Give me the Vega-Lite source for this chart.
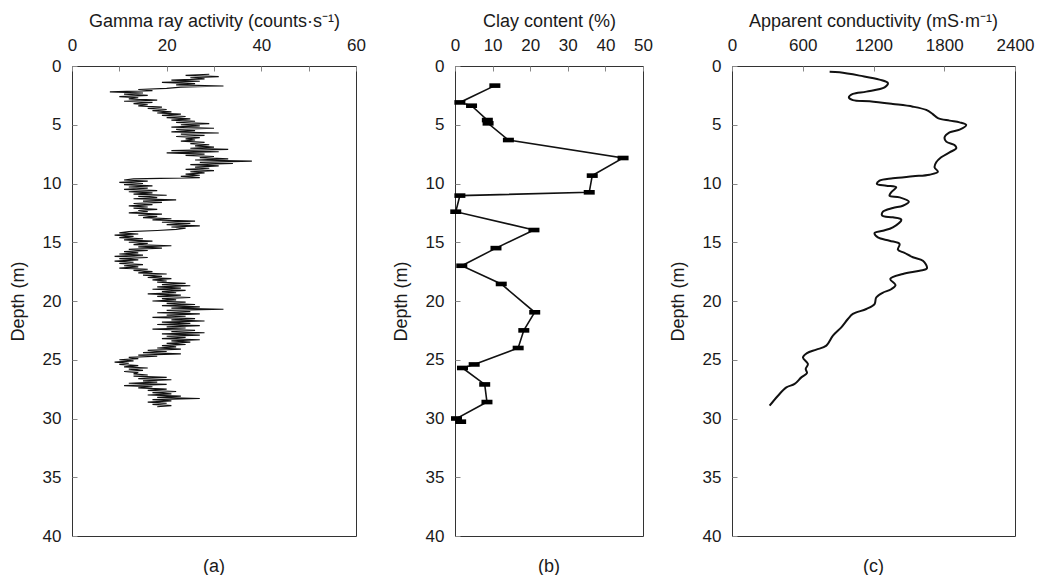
{
  "$schema": "https://vega.github.io/schema/vega-lite/v6.json",
  "autosize": {"type": "pad"},
  "padding": {"left": 8, "top": 11, "right": 5, "bottom": 5},
  "bounds": "flush",
  "spacing": 99,
  "config": {
    "font": "Liberation Sans",
    "view": {"stroke": "#333", "strokeWidth": 1},
    "axis": {
      "domain": false,
      "grid": false,
      "tickSize": -5,
      "tickColor": "#888",
      "labelFontSize": 17,
      "labelColor": "#1a1a1a",
      "labelFlush": false,
      "labelOverlap": false,
      "titleFontSize": 18,
      "titleFontWeight": "normal",
      "titleColor": "#1a1a1a"
    },
    "axisX": {"labelPadding": 17},
    "axisY": {"labelPadding": 16},
    "title": {"fontSize": 18, "fontWeight": "normal", "color": "#1a1a1a", "orient": "bottom", "baseline": "middle", "offset": 14}
  },
  "datasets": {
    "gamma": [
      {"depth":0.7,"gamma":29},{"depth":0.8,"gamma":24},{"depth":0.9,"gamma":31},{"depth":1.0,"gamma":25},{"depth":1.1,"gamma":28},
      {"depth":1.2,"gamma":21},{"depth":1.3,"gamma":27},{"depth":1.4,"gamma":19},{"depth":1.5,"gamma":26},{"depth":1.6,"gamma":22},
      {"depth":1.7,"gamma":32},{"depth":1.8,"gamma":23},{"depth":1.9,"gamma":20},{"depth":2.0,"gamma":14},{"depth":2.1,"gamma":17},
      {"depth":2.2,"gamma":8},{"depth":2.3,"gamma":15},{"depth":2.4,"gamma":11},{"depth":2.5,"gamma":16},{"depth":2.6,"gamma":10},
      {"depth":2.7,"gamma":14},{"depth":2.8,"gamma":12},{"depth":2.9,"gamma":18},{"depth":3.0,"gamma":11},{"depth":3.1,"gamma":17},
      {"depth":3.2,"gamma":13},{"depth":3.3,"gamma":16},{"depth":3.4,"gamma":14},{"depth":3.5,"gamma":19},{"depth":3.6,"gamma":16},
      {"depth":3.7,"gamma":20},{"depth":3.8,"gamma":17},{"depth":3.9,"gamma":21},{"depth":4.0,"gamma":18},{"depth":4.1,"gamma":23},
      {"depth":4.2,"gamma":19},{"depth":4.3,"gamma":24},{"depth":4.4,"gamma":20},{"depth":4.5,"gamma":25},{"depth":4.6,"gamma":21},
      {"depth":4.7,"gamma":26},{"depth":4.8,"gamma":22},{"depth":4.9,"gamma":29},{"depth":5.0,"gamma":23},{"depth":5.1,"gamma":27},
      {"depth":5.2,"gamma":21},{"depth":5.3,"gamma":30},{"depth":5.4,"gamma":22},{"depth":5.5,"gamma":26},{"depth":5.6,"gamma":21},
      {"depth":5.7,"gamma":31},{"depth":5.8,"gamma":23},{"depth":5.9,"gamma":28},{"depth":6.0,"gamma":22},{"depth":6.1,"gamma":27},
      {"depth":6.2,"gamma":24},{"depth":6.3,"gamma":26},{"depth":6.4,"gamma":23},{"depth":6.5,"gamma":28},{"depth":6.6,"gamma":25},
      {"depth":6.7,"gamma":29},{"depth":6.8,"gamma":26},{"depth":6.9,"gamma":30},{"depth":7.0,"gamma":25},{"depth":7.1,"gamma":33},
      {"depth":7.2,"gamma":21},{"depth":7.3,"gamma":31},{"depth":7.4,"gamma":20},{"depth":7.5,"gamma":28},{"depth":7.6,"gamma":24},
      {"depth":7.7,"gamma":30},{"depth":7.8,"gamma":27},{"depth":7.9,"gamma":33},{"depth":8.0,"gamma":26},{"depth":8.1,"gamma":38},
      {"depth":8.2,"gamma":27},{"depth":8.3,"gamma":34},{"depth":8.4,"gamma":25},{"depth":8.5,"gamma":31},{"depth":8.6,"gamma":26},
      {"depth":8.7,"gamma":29},{"depth":8.8,"gamma":24},{"depth":8.9,"gamma":30},{"depth":9.0,"gamma":25},{"depth":9.1,"gamma":28},
      {"depth":9.2,"gamma":24},{"depth":9.3,"gamma":27},{"depth":9.4,"gamma":23},{"depth":9.5,"gamma":27},{"depth":9.6,"gamma":13},
      {"depth":9.7,"gamma":11},{"depth":9.8,"gamma":16},{"depth":9.9,"gamma":10},{"depth":10.0,"gamma":15},{"depth":10.1,"gamma":11},
      {"depth":10.2,"gamma":17},{"depth":10.3,"gamma":12},{"depth":10.4,"gamma":16},{"depth":10.5,"gamma":11},{"depth":10.6,"gamma":18},
      {"depth":10.7,"gamma":12},{"depth":10.8,"gamma":17},{"depth":10.9,"gamma":13},{"depth":11.0,"gamma":20},{"depth":11.1,"gamma":14},
      {"depth":11.2,"gamma":18},{"depth":11.3,"gamma":13},{"depth":11.4,"gamma":22},{"depth":11.5,"gamma":15},{"depth":11.6,"gamma":19},
      {"depth":11.7,"gamma":13},{"depth":11.8,"gamma":17},{"depth":11.9,"gamma":12},{"depth":12.0,"gamma":16},{"depth":12.1,"gamma":13},
      {"depth":12.2,"gamma":18},{"depth":12.3,"gamma":14},{"depth":12.4,"gamma":16},{"depth":12.5,"gamma":12},{"depth":12.6,"gamma":19},
      {"depth":12.7,"gamma":14},{"depth":12.8,"gamma":18},{"depth":12.9,"gamma":15},{"depth":13.0,"gamma":21},{"depth":13.1,"gamma":17},
      {"depth":13.2,"gamma":26},{"depth":13.3,"gamma":19},{"depth":13.4,"gamma":25},{"depth":13.5,"gamma":20},{"depth":13.6,"gamma":27},
      {"depth":13.7,"gamma":21},{"depth":13.8,"gamma":24},{"depth":13.9,"gamma":22},{"depth":14.0,"gamma":18},{"depth":14.1,"gamma":12},
      {"depth":14.2,"gamma":10},{"depth":14.3,"gamma":14},{"depth":14.4,"gamma":9},{"depth":14.5,"gamma":13},{"depth":14.6,"gamma":10},
      {"depth":14.7,"gamma":15},{"depth":14.8,"gamma":11},{"depth":14.9,"gamma":17},{"depth":15.0,"gamma":12},{"depth":15.1,"gamma":16},
      {"depth":15.2,"gamma":13},{"depth":15.3,"gamma":21},{"depth":15.4,"gamma":14},{"depth":15.5,"gamma":19},{"depth":15.6,"gamma":12},
      {"depth":15.7,"gamma":16},{"depth":15.8,"gamma":11},{"depth":15.9,"gamma":14},{"depth":16.0,"gamma":10},{"depth":16.1,"gamma":15},
      {"depth":16.2,"gamma":9},{"depth":16.3,"gamma":16},{"depth":16.4,"gamma":10},{"depth":16.5,"gamma":14},{"depth":16.6,"gamma":9},
      {"depth":16.7,"gamma":13},{"depth":16.8,"gamma":10},{"depth":16.9,"gamma":15},{"depth":17.0,"gamma":11},{"depth":17.1,"gamma":14},
      {"depth":17.2,"gamma":10},{"depth":17.3,"gamma":16},{"depth":17.4,"gamma":13},{"depth":17.5,"gamma":17},{"depth":17.6,"gamma":14},
      {"depth":17.7,"gamma":20},{"depth":17.8,"gamma":15},{"depth":17.9,"gamma":19},{"depth":18.0,"gamma":16},{"depth":18.1,"gamma":21},
      {"depth":18.2,"gamma":17},{"depth":18.3,"gamma":20},{"depth":18.4,"gamma":18},{"depth":18.5,"gamma":24},{"depth":18.6,"gamma":19},
      {"depth":18.7,"gamma":25},{"depth":18.8,"gamma":18},{"depth":18.9,"gamma":23},{"depth":19.0,"gamma":17},{"depth":19.1,"gamma":24},
      {"depth":19.2,"gamma":19},{"depth":19.3,"gamma":22},{"depth":19.4,"gamma":16},{"depth":19.5,"gamma":23},{"depth":19.6,"gamma":18},
      {"depth":19.7,"gamma":25},{"depth":19.8,"gamma":19},{"depth":19.9,"gamma":22},{"depth":20.0,"gamma":17},{"depth":20.1,"gamma":24},
      {"depth":20.2,"gamma":20},{"depth":20.3,"gamma":26},{"depth":20.4,"gamma":19},{"depth":20.5,"gamma":27},{"depth":20.6,"gamma":21},
      {"depth":20.7,"gamma":32},{"depth":20.8,"gamma":20},{"depth":20.9,"gamma":25},{"depth":21.0,"gamma":18},{"depth":21.1,"gamma":27},
      {"depth":21.2,"gamma":20},{"depth":21.3,"gamma":24},{"depth":21.4,"gamma":17},{"depth":21.5,"gamma":26},{"depth":21.6,"gamma":21},
      {"depth":21.7,"gamma":28},{"depth":21.8,"gamma":19},{"depth":21.9,"gamma":25},{"depth":22.0,"gamma":18},{"depth":22.1,"gamma":27},
      {"depth":22.2,"gamma":20},{"depth":22.3,"gamma":24},{"depth":22.4,"gamma":17},{"depth":22.5,"gamma":26},{"depth":22.6,"gamma":21},
      {"depth":22.7,"gamma":28},{"depth":22.8,"gamma":19},{"depth":22.9,"gamma":27},{"depth":23.0,"gamma":20},{"depth":23.1,"gamma":24},
      {"depth":23.2,"gamma":19},{"depth":23.3,"gamma":27},{"depth":23.4,"gamma":21},{"depth":23.5,"gamma":25},{"depth":23.6,"gamma":20},
      {"depth":23.7,"gamma":24},{"depth":23.8,"gamma":19},{"depth":23.9,"gamma":22},{"depth":24.0,"gamma":18},{"depth":24.1,"gamma":23},
      {"depth":24.2,"gamma":16},{"depth":24.3,"gamma":20},{"depth":24.4,"gamma":15},{"depth":24.5,"gamma":23},{"depth":24.6,"gamma":14},
      {"depth":24.7,"gamma":18},{"depth":24.8,"gamma":12},{"depth":24.9,"gamma":14},{"depth":25.0,"gamma":10},{"depth":25.1,"gamma":13},
      {"depth":25.2,"gamma":9},{"depth":25.3,"gamma":12},{"depth":25.4,"gamma":10},{"depth":25.5,"gamma":14},{"depth":25.6,"gamma":11},
      {"depth":25.7,"gamma":16},{"depth":25.8,"gamma":12},{"depth":25.9,"gamma":15},{"depth":26.0,"gamma":11},{"depth":26.1,"gamma":14},
      {"depth":26.2,"gamma":13},{"depth":26.3,"gamma":16},{"depth":26.4,"gamma":13},{"depth":26.5,"gamma":20},{"depth":26.6,"gamma":14},
      {"depth":26.7,"gamma":21},{"depth":26.8,"gamma":15},{"depth":26.9,"gamma":18},{"depth":27.0,"gamma":12},{"depth":27.1,"gamma":20},
      {"depth":27.2,"gamma":11},{"depth":27.3,"gamma":17},{"depth":27.4,"gamma":14},{"depth":27.5,"gamma":20},{"depth":27.6,"gamma":16},
      {"depth":27.7,"gamma":22},{"depth":27.8,"gamma":17},{"depth":27.9,"gamma":21},{"depth":28.0,"gamma":16},{"depth":28.1,"gamma":23},
      {"depth":28.2,"gamma":18},{"depth":28.3,"gamma":27},{"depth":28.4,"gamma":17},{"depth":28.5,"gamma":21},{"depth":28.6,"gamma":16},
      {"depth":28.7,"gamma":20},{"depth":28.8,"gamma":17},{"depth":28.9,"gamma":21},{"depth":29.0,"gamma":18}
    ],
    "clay": [
      {"depth":1.67,"clay":10.6},{"depth":3.1,"clay":1.3},{"depth":3.38,"clay":4.4},{"depth":4.6,"clay":8.6},
      {"depth":4.88,"clay":8.8},{"depth":6.3,"clay":14.2},{"depth":7.83,"clay":44.7},{"depth":9.33,"clay":36.5},
      {"depth":10.75,"clay":35.7},{"depth":11.03,"clay":1.3},{"depth":12.4,"clay":0.2},{"depth":13.96,"clay":21.0},
      {"depth":15.5,"clay":10.9},{"depth":17.0,"clay":1.8},{"depth":18.55,"clay":12.3},{"depth":20.96,"clay":21.2},
      {"depth":22.5,"clay":18.3},{"depth":24.0,"clay":16.8},{"depth":25.4,"clay":5.1},{"depth":25.7,"clay":2.0},
      {"depth":27.1,"clay":7.9},{"depth":28.6,"clay":8.5},{"depth":30.0,"clay":0.4},{"depth":30.27,"clay":1.5}
    ],
    "cond": [
      {"depth":0.48,"ec":828},{"depth":0.54,"ec":912},{"depth":0.82,"ec":1082},{"depth":1.16,"ec":1251},{"depth":1.45,"ec":1322},
      {"depth":1.82,"ec":1294},{"depth":2.18,"ec":1139},{"depth":2.38,"ec":1025},{"depth":2.67,"ec":991},{"depth":2.9,"ec":1025},
      {"depth":3.0,"ec":1167},{"depth":3.23,"ec":1364},{"depth":3.46,"ec":1534},{"depth":3.74,"ec":1647},{"depth":4.09,"ec":1703},
      {"depth":4.43,"ec":1746},{"depth":4.65,"ec":1845},{"depth":4.8,"ec":1930},{"depth":5.02,"ec":1986},{"depth":5.42,"ec":1930},
      {"depth":5.65,"ec":1845},{"depth":6.07,"ec":1803},{"depth":6.44,"ec":1817},{"depth":6.72,"ec":1887},{"depth":7.0,"ec":1902},
      {"depth":7.35,"ec":1845},{"depth":7.77,"ec":1774},{"depth":8.2,"ec":1732},{"depth":8.62,"ec":1718},{"depth":9.0,"ec":1746},
      {"depth":9.25,"ec":1675},{"depth":9.39,"ec":1534},{"depth":9.56,"ec":1364},{"depth":9.76,"ec":1251},{"depth":10.04,"ec":1229},
      {"depth":10.19,"ec":1308},{"depth":10.32,"ec":1393},{"depth":10.75,"ec":1350},{"depth":11.04,"ec":1336},{"depth":11.18,"ec":1421},
      {"depth":11.55,"ec":1500},{"depth":11.89,"ec":1449},{"depth":12.09,"ec":1364},{"depth":12.4,"ec":1280},{"depth":12.74,"ec":1274},
      {"depth":12.88,"ec":1364},{"depth":13.08,"ec":1436},{"depth":13.73,"ec":1364},{"depth":14.02,"ec":1280},{"depth":14.21,"ec":1209},
      {"depth":14.58,"ec":1237},{"depth":14.87,"ec":1336},{"depth":15.15,"ec":1421},{"depth":15.63,"ec":1407},{"depth":15.91,"ec":1463},
      {"depth":16.28,"ec":1534},{"depth":16.57,"ec":1619},{"depth":17.22,"ec":1653},{"depth":17.42,"ec":1591},{"depth":17.7,"ec":1449},
      {"depth":18.13,"ec":1342},{"depth":18.64,"ec":1387},{"depth":19.0,"ec":1350},{"depth":19.3,"ec":1277},{"depth":19.7,"ec":1223},
      {"depth":20.26,"ec":1209},{"depth":20.68,"ec":1139},{"depth":21.1,"ec":1025},{"depth":21.53,"ec":983},{"depth":22.24,"ec":927},
      {"depth":22.95,"ec":856},{"depth":23.8,"ec":800},{"depth":24.14,"ec":715},{"depth":24.43,"ec":636},{"depth":24.8,"ec":602},
      {"depth":25.36,"ec":644},{"depth":25.79,"ec":625},{"depth":26.13,"ec":636},{"depth":26.5,"ec":588},{"depth":27.06,"ec":531},
      {"depth":27.35,"ec":461},{"depth":28.06,"ec":390},{"depth":28.91,"ec":319}
    ]
  },
  "hconcat": [
    {
      "width": 284,
      "height": 470,
      "title": {"text": "(a)"},
      "data": {"name": "gamma"},
      "mark": {"type": "line", "color": "#111", "strokeWidth": 1.2},
      "encoding": {
        "x": {
          "field": "gamma", "type": "quantitative",
          "scale": {"domain": [0, 60], "nice": false},
          "axis": {"orient": "top", "title": "Gamma ray activity (counts·s⁻¹)", "titleX": 142, "titleY": -45, "titleBaseline": "middle",
                   "values": [0, 10, 20, 30, 40, 50, 60], "labelExpr": "datum.value % 20 === 0 ? datum.label : ''"}
        },
        "y": {
          "field": "depth", "type": "quantitative",
          "scale": {"domain": [0, 40], "reverse": true, "nice": false},
          "axis": {"title": "Depth (m)", "titleX": -54, "titleY": 235, "titleAngle": 270, "titleAlign": "center", "titleBaseline": "middle",
                   "values": [0, 5, 10, 15, 20, 25, 30, 35, 40]}
        },
        "order": {"field": "depth", "type": "quantitative"}
      }
    },
    {
      "spacing": 89,
      "bounds": "flush",
      "hconcat": [
        {
          "width": 188,
          "height": 470,
          "title": {"text": "(b)"},
          "data": {"name": "clay"},
          "encoding": {
            "x": {
              "field": "clay", "type": "quantitative",
              "scale": {"domain": [0, 50], "nice": false},
              "axis": {"orient": "top", "title": "Clay content (%)", "titleX": 94, "titleY": -45, "titleBaseline": "middle",
                       "values": [0, 10, 20, 30, 40, 50]}
            },
            "y": {
              "field": "depth", "type": "quantitative",
              "scale": {"domain": [0, 40], "reverse": true, "nice": false},
              "axis": {"title": "Depth (m)", "titleX": -54, "titleY": 235, "titleAngle": 270, "titleAlign": "center", "titleBaseline": "middle",
                       "values": [0, 5, 10, 15, 20, 25, 30, 35, 40]}
            }
          },
          "layer": [
            {
              "mark": {"type": "line", "color": "#111", "strokeWidth": 1.6},
              "encoding": {"order": {"field": "depth", "type": "quantitative"}}
            },
            {
              "mark": {"type": "point", "shape": "M-1,-0.42H1V0.42H-1Z", "size": 121, "filled": true, "color": "#000", "opacity": 1}
            }
          ]
        },
        {
          "width": 283,
          "height": 470,
          "title": {"text": "(c)"},
          "data": {"name": "cond"},
          "mark": {"type": "line", "color": "#111", "strokeWidth": 2, "interpolate": "catmull-rom"},
          "encoding": {
            "x": {
              "field": "ec", "type": "quantitative",
              "scale": {"domain": [0, 2400], "nice": false},
              "axis": {"orient": "top", "title": "Apparent conductivity (mS·m⁻¹)", "titleX": 141, "titleY": -45, "titleBaseline": "middle",
                       "values": [0, 600, 1200, 1800, 2400], "format": "d"}
            },
            "y": {
              "field": "depth", "type": "quantitative",
              "scale": {"domain": [0, 40], "reverse": true, "nice": false},
              "axis": {"title": "Depth (m)", "titleX": -54, "titleY": 235, "titleAngle": 270, "titleAlign": "center", "titleBaseline": "middle",
                       "values": [0, 5, 10, 15, 20, 25, 30, 35, 40]}
            },
            "order": {"field": "depth", "type": "quantitative"}
          }
        }
      ]
    }
  ]
}
